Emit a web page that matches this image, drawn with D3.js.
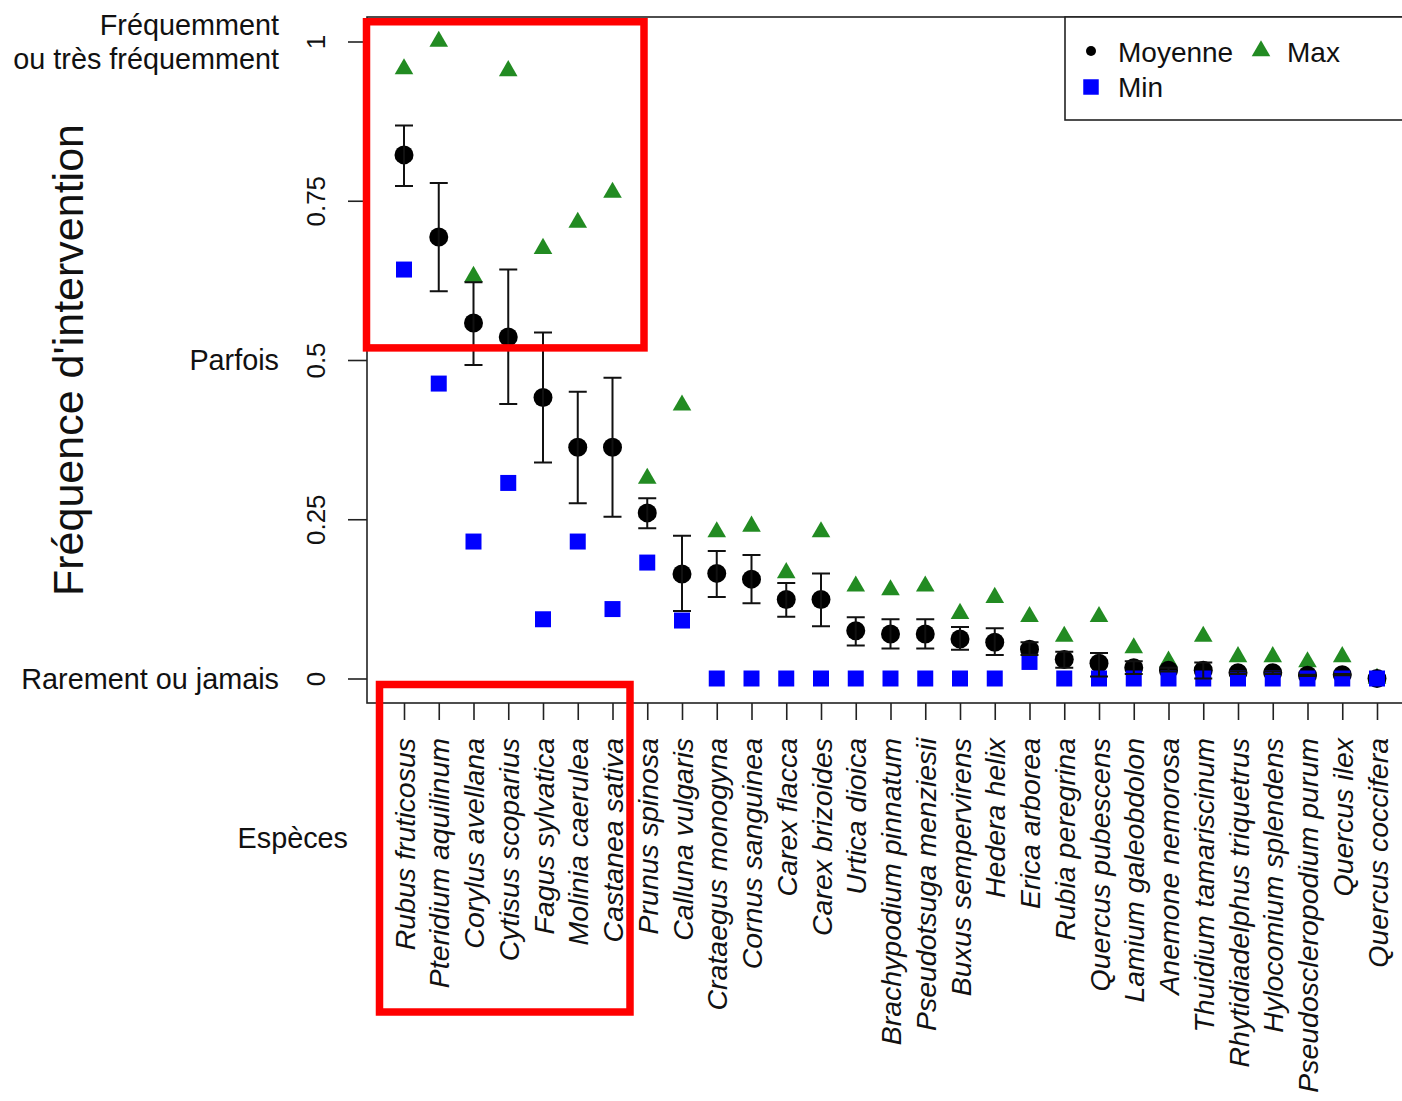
<!DOCTYPE html>
<html>
<head>
<meta charset="utf-8">
<script src="https://cdn.jsdelivr.net/npm/d3@7"></script>
<style>
  body { margin: 0; background: #fff; }
  svg { display: block; font-family: "Liberation Sans", Arial, sans-serif; }
</style>
</head>
<body>
<svg width="1402" height="1101"></svg>
<script>
// species, ordered by mean frequency
var species = ["Rubus fruticosus", "Pteridium aquilinum", "Corylus avellana", "Cytisus scoparius",
  "Fagus sylvatica", "Molinia caerulea", "Castanea sativa", "Prunus spinosa", "Calluna vulgaris",
  "Crataegus monogyna", "Cornus sanguinea", "Carex flacca", "Carex brizoides", "Urtica dioica",
  "Brachypodium pinnatum", "Pseudotsuga menziesii", "Buxus sempervirens", "Hedera helix",
  "Erica arborea", "Rubia peregrina", "Quercus pubescens", "Lamium galeobdolon", "Anemone nemorosa",
  "Thuidium tamariscinum", "Rhytidiadelphus triquetrus", "Hylocomium splendens",
  "Pseudoscleropodium purum", "Quercus ilex", "Quercus coccifera"];

var meanVals = [0.822, 0.693, 0.558, 0.536, 0.441, 0.363, 0.363, 0.260, 0.164, 0.165, 0.156, 0.124, 0.124,
  0.075, 0.070, 0.070, 0.062, 0.057, 0.046, 0.030, 0.024, 0.017, 0.013, 0.013, 0.009, 0.009, 0.005, 0.006, 0];
var errLow = [0.773, 0.608, 0.492, 0.431, 0.339, 0.275, 0.254, 0.236, 0.106, 0.128, 0.118, 0.097, 0.082,
  0.052, 0.047, 0.047, 0.045, 0.037, 0.037, 0.017, 0.003, 0.007, 0.011, 0.0, 0.007, 0.007, 0.004, 0.005, 0];
var errHigh = [0.868, 0.778, 0.622, 0.642, 0.543, 0.450, 0.472, 0.283, 0.224, 0.200, 0.194, 0.150, 0.165,
  0.096, 0.093, 0.093, 0.081, 0.079, 0.057, 0.042, 0.040, 0.027, 0.017, 0.025, 0.011, 0.011, 0.006, 0.007, 0];
var maxVals = [0.957, 1.0, 0.631, 0.954, 0.675, 0.716, 0.763, 0.314, 0.429, 0.230, 0.239, 0.166, 0.230,
  0.145, 0.139, 0.145, 0.102, 0.127, 0.097, 0.066, 0.097, 0.048, 0.027, 0.066, 0.034, 0.034, 0.026, 0.034, 0];
var minVals = [0.642, 0.463, 0.215, 0.307, 0.093, 0.215, 0.109, 0.182, 0.091, 0, 0, 0, 0,
  0, 0, 0, 0, 0, 0.026, 0, 0, 0, 0, 0, 0, 0, 0, 0, 0];

var yTicks = [0, 0.25, 0.5, 0.75, 1];
var yCats = [
  {v: 1, lines: ["Fréquemment", "ou très fréquemment"]},
  {v: 0.5, lines: ["Parfois"]},
  {v: 0, lines: ["Rarement ou jamais"]}
];

var svg = d3.select("svg");

var x = d3.scalePoint().domain(species).range([404, 1377]);
var y = d3.scaleLinear().domain([0, 1]).range([678.5, 41.5]);

var frame = {left: 367, top: 17, bottom: 703};

// plot box
svg.append("rect")
    .attr("x", frame.left).attr("y", frame.top)
    .attr("width", 1500).attr("height", frame.bottom - frame.top)
    .attr("fill", "none").attr("stroke", "#222").attr("stroke-width", 1.6);

// y axis
var yAxis = svg.append("g")
    .attr("transform", "translate(" + frame.left + ",0)")
    .call(d3.axisLeft(y).tickValues(yTicks).tickSize(19).tickFormat(d3.format("")));
yAxis.select(".domain").remove();
yAxis.selectAll("line").attr("stroke", "#222").attr("stroke-width", 1.6);
yAxis.selectAll("text")
    .attr("x", 0).attr("dy", 0)
    .attr("text-anchor", "middle")
    .attr("transform", "translate(-42,0) rotate(-90)")
    .attr("fill", "#111")
    .style("font-size", "26px")
    .style("font-family", "'Liberation Sans', Arial, sans-serif");

// category labels on y
yCats.forEach(function(c) {
  var n = c.lines.length;
  c.lines.forEach(function(t, i) {
    svg.append("text")
        .attr("x", 279)
        .attr("y", y(c.v) + 10 + (i - (n - 1) / 2) * 34)
        .attr("text-anchor", "end")
        .attr("fill", "#111")
        .style("font-size", "28.8px")
        .text(t);
  });
});

// y title
svg.append("text")
    .attr("transform", "translate(83," + ((frame.top + frame.bottom) / 2) + ") rotate(-90)")
    .attr("text-anchor", "middle")
    .attr("fill", "#111")
    .style("font-size", "43px")
    .text("Fréquence d'intervention");

// x axis
var xAxis = svg.append("g")
    .attr("transform", "translate(0," + frame.bottom + ")")
    .call(d3.axisBottom(x).tickSize(17));
xAxis.select(".domain").remove();
xAxis.selectAll("line").attr("stroke", "#222").attr("stroke-width", 1.6);
xAxis.selectAll("text")
    .attr("x", 0).attr("y", 0).attr("dy", 0)
    .attr("text-anchor", "end")
    .attr("transform", "translate(10,35) rotate(-90)")
    .attr("fill", "#111")
    .style("font-size", "28.5px")
    .style("font-style", "italic")
    .style("font-family", "'Liberation Sans', Arial, sans-serif");

svg.append("text")
    .attr("x", 348).attr("y", 848)
    .attr("text-anchor", "end")
    .attr("fill", "#111")
    .style("font-size", "28.8px")
    .text("Espèces");

var rows = species.map(function(s, i) {
  return {name: s, mean: meanVals[i], lo: errLow[i], hi: errHigh[i], max: maxVals[i], min: minVals[i]};
});

// max triangles
svg.append("g").selectAll("path")
    .data(rows).join("path")
    .attr("transform", function(d) { return "translate(" + x(d.name) + "," + y(d.max) + ")"; })
    .attr("d", d3.symbol(d3.symbolTriangle, 150))
    .attr("fill", "#228B22");

// means
svg.append("g").selectAll("circle")
    .data(rows).join("circle")
    .attr("cx", function(d) { return x(d.name); })
    .attr("cy", function(d) { return y(d.mean); })
    .attr("r", 9.5)
    .attr("fill", "#000");

// min squares
svg.append("g").selectAll("path")
    .data(rows).join("path")
    .attr("transform", function(d) { return "translate(" + x(d.name) + "," + y(d.min) + ")"; })
    .attr("d", d3.symbol(d3.symbolSquare, 256))
    .attr("fill", "#0000FF");

// error bars
var eb = svg.append("g").attr("stroke", "#111").attr("stroke-width", 2).attr("fill", "none");
eb.selectAll("path")
    .data(rows.filter(function(d) { return d.hi > d.lo; })).join("path")
    .attr("d", function(d) {
      var cx = x(d.name), w = 9;
      return "M" + cx + "," + y(d.lo) + "V" + y(d.hi) +
             "M" + (cx - w) + "," + y(d.hi) + "H" + (cx + w) +
             "M" + (cx - w) + "," + y(d.lo) + "H" + (cx + w);
    });

// legend
var lg = svg.append("g");
lg.append("rect")
    .attr("x", 1065).attr("y", frame.top).attr("width", 400).attr("height", 103)
    .attr("fill", "#fff").attr("stroke", "#222").attr("stroke-width", 1.6);
lg.append("circle").attr("cx", 1091).attr("cy", 51).attr("r", 5).attr("fill", "#000");
lg.append("text").attr("x", 1118).attr("y", 62).style("font-size", "28px").attr("fill", "#111").text("Moyenne");
lg.append("path").attr("transform", "translate(1261,51)")
    .attr("d", d3.symbol(d3.symbolTriangle, 150)).attr("fill", "#228B22");
lg.append("text").attr("x", 1287).attr("y", 62).style("font-size", "28px").attr("fill", "#111").text("Max");
lg.append("path").attr("transform", "translate(1091,87)")
    .attr("d", d3.symbol(d3.symbolSquare, 240)).attr("fill", "#0000FF");
lg.append("text").attr("x", 1118).attr("y", 97).style("font-size", "28px").attr("fill", "#111").text("Min");

// red highlight boxes around the first seven species
var first = species[0], last = species[6];
svg.append("rect")
    .attr("x", x(first) - 37.5).attr("y", y(1.031))
    .attr("width", x(last) + 31.5 - (x(first) - 37.5))
    .attr("height", y(0.519) - y(1.031))
    .attr("fill", "none").attr("stroke", "#FF0000").attr("stroke-width", 7.5);
svg.append("rect")
    .attr("x", x(first) - 24.5).attr("y", frame.bottom - 18.5)
    .attr("width", x(last) + 17.5 - (x(first) - 24.5))
    .attr("height", 1012 - (frame.bottom - 18.5))
    .attr("fill", "none").attr("stroke", "#FF0000").attr("stroke-width", 7.5);
</script>
</body>
</html>
